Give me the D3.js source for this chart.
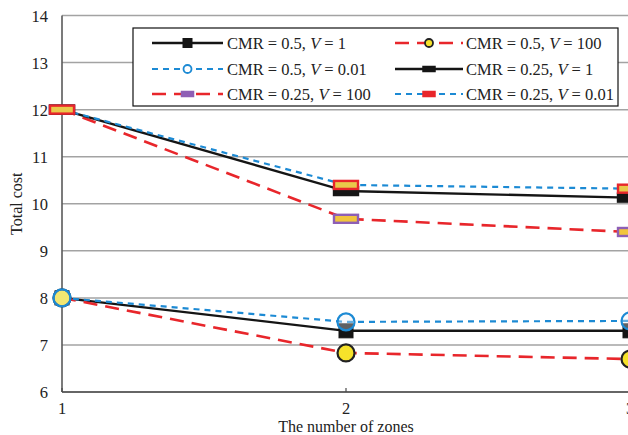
<!DOCTYPE html>
<html>
<head>
<meta charset="utf-8">
<title>Total cost vs number of zones</title>
<script src="https://d3js.org/d3.v7.min.js"></script>
<style>
  body { margin: 0; background: white; }
  svg { display: block; font-family: "Liberation Serif", "DejaVu Serif", serif; }
</style>
</head>
<body>
<svg id="chart" width="628" height="435"></svg>
<script>
// data
const zones = [1, 2, 3];
const yTicks = [6, 7, 8, 9, 10, 11, 12, 13, 14];
const cmr05v1 = [8, 7.30, 7.30];
const cmr05v100 = [8, 6.83, 6.70];
const cmr05v001 = [8, 7.49, 7.51];
const cmr025v1 = [12, 10.27, 10.13];
const cmr025v100 = [12, 9.68, 9.40];
const cmr025v001 = [12, 10.40, 10.32];

const svg = d3.select("#chart");
const x = d3.scaleLinear().domain([1, 3]).range([62, 630]);
const y = d3.scaleLinear().domain([6, 14]).range([392, 15.5]);

const RED = "#e8262b", BLUE = "#1c8ad4", BLACK = "#151515";

// series styles: line + marker (drawn in this order)
let series = [
  { name: "CMR = 0.25, V = 100", v: "100", cmr: "0.25", vals: cmr025v100, color: RED, width: 2.6, dash: "14,8", marker: "rect", mfill: "#f2c53d", mstroke: "#8e5fb5" },
  { name: "CMR = 0.25, V = 1", v: "1", cmr: "0.25", vals: cmr025v1, color: BLACK, width: 2.4, dash: null, marker: "rect", mfill: "#151515", mstroke: "#151515" },
  { name: "CMR = 0.25, V = 0.01", v: "0.01", cmr: "0.25", vals: cmr025v001, color: BLUE, width: 2.2, dash: "6,5", marker: "rect", mfill: "#e9c94a", mstroke: RED },
  { name: "CMR = 0.5, V = 1", v: "1", cmr: "0.5", vals: cmr05v1, color: BLACK, width: 2.4, dash: null, marker: "square", mfill: "#151515", mstroke: "#151515" },
  { name: "CMR = 0.5, V = 100", v: "100", cmr: "0.5", vals: cmr05v100, color: RED, width: 2.6, dash: "14,8", marker: "circle", mfill: "#f6e22a", mstroke: "#222" },
  { name: "CMR = 0.5, V = 0.01", v: "0.01", cmr: "0.5", vals: cmr05v001, color: BLUE, width: 2.2, dash: "6,5", marker: "circle", mfill: "rgba(235,240,245,0.35)", mstroke: BLUE }
];

// grid
svg.append("g").selectAll("line").data(yTicks).enter().append("line")
  .attr("x1", x(1)).attr("x2", 628)
  .attr("y1", d => y(d)).attr("y2", d => y(d))
  .attr("stroke", "#a3a3a3").attr("stroke-width", 1.5);

// axes
svg.append("line").attr("x1", x(1)).attr("x2", x(1)).attr("y1", y(14)).attr("y2", y(6))
  .attr("stroke", "#5a5a5a").attr("stroke-width", 1.6);
svg.append("line").attr("x1", x(1)).attr("x2", 628).attr("y1", y(6)).attr("y2", y(6))
  .attr("stroke", "#4a4a4a").attr("stroke-width", 1.6);
svg.append("g").selectAll("line").data(zones).enter().append("line")
  .attr("x1", d => x(d)).attr("x2", d => x(d)).attr("y1", y(6)).attr("y2", y(6) - 4)
  .attr("stroke", "#4a4a4a").attr("stroke-width", 1.2);

svg.append("g").selectAll("text").data(yTicks).enter().append("text")
  .attr("x", 48).attr("y", d => y(d) + 6).attr("text-anchor", "end")
  .attr("font-size", 16.5).attr("fill", "#222").text(d => d);
svg.append("g").selectAll("text").data(zones).enter().append("text")
  .attr("x", d => x(d)).attr("y", 414).attr("text-anchor", "middle")
  .attr("font-size", 16.5).attr("fill", "#222").text(d => d);

svg.append("text").attr("x", x(2)).attr("y", 432).attr("text-anchor", "middle")
  .attr("font-size", 16).attr("fill", "#222").text("The number of zones");
svg.append("text").attr("transform", "translate(22," + y(10) + ") rotate(-90)")
  .attr("text-anchor", "middle").attr("font-size", 16).attr("fill", "#222").text("Total cost");

function drawMarker(g, s, cx, cy, small) {
  if (s.marker === "rect") {
    let w = small ? 12 : 24, h = small ? 5 : 8;
    g.append("rect").attr("x", cx - w / 2).attr("y", cy - h / 2).attr("width", w).attr("height", h)
      .attr("fill", small ? s.mstroke : s.mfill).attr("stroke", s.mstroke).attr("stroke-width", small ? 1.5 : 2.4);
  } else if (s.marker === "square") {
    let w = small ? 9 : 14;
    g.append("rect").attr("x", cx - w / 2).attr("y", cy - w / 2).attr("width", w).attr("height", w)
      .attr("fill", s.mfill).attr("stroke", s.mstroke).attr("stroke-width", 1);
  } else {
    g.append("circle").attr("cx", cx).attr("cy", cy).attr("r", small ? 4 : 8.5)
      .attr("fill", small && s.v === "0.01" ? "white" : s.mfill)
      .attr("stroke", s.mstroke).attr("stroke-width", small ? 1.8 : 2.2);
  }
}

const line = d3.line().x((d, i) => x(zones[i])).y(d => y(d));
series.forEach(s => {
  svg.append("path").datum(s.vals).attr("d", line)
    .attr("fill", "none").attr("stroke", s.color).attr("stroke-width", s.width)
    .attr("stroke-dasharray", s.dash);
});
series.forEach(s => {
  let g = svg.append("g");
  s.vals.forEach((v, i) => drawMarker(g, s, x(zones[i]), y(v), false));
});

// legend
const lg = svg.append("g");
lg.append("rect").attr("x", 133).attr("y", 28).attr("width", 485).attr("height", 78)
  .attr("fill", "white").attr("stroke", "#111").attr("stroke-width", 1.2);

const legendOrder = [
  ["CMR = 0.5, V = 1", "CMR = 0.5, V = 100"],
  ["CMR = 0.5, V = 0.01", "CMR = 0.25, V = 1"],
  ["CMR = 0.25, V = 100", "CMR = 0.25, V = 0.01"]
];
const colX = [[152, 223, 227], [395, 463, 466]];
const rowY = [43, 69, 94];
legendOrder.forEach((row, r) => {
  row.forEach((name, c) => {
    let s = series.find(d => d.name === name);
    let [x1, x2, tx] = colX[c];
    let cy = rowY[r];
    lg.append("line").attr("x1", x1).attr("x2", x2).attr("y1", cy).attr("y2", cy)
      .attr("stroke", s.color).attr("stroke-width", s.width).attr("stroke-dasharray", s.dash);
    drawMarker(lg, s, (x1 + x2) / 2, cy, true);
    let t = lg.append("text").attr("x", tx).attr("y", cy + 6).attr("font-size", 16.5).attr("fill", "#222");
    t.append("tspan").text("CMR = " + s.cmr + ", ");
    t.append("tspan").attr("font-style", "italic").text("V");
    t.append("tspan").text(" = " + s.v);
  });
});
</script>
</body>
</html>
